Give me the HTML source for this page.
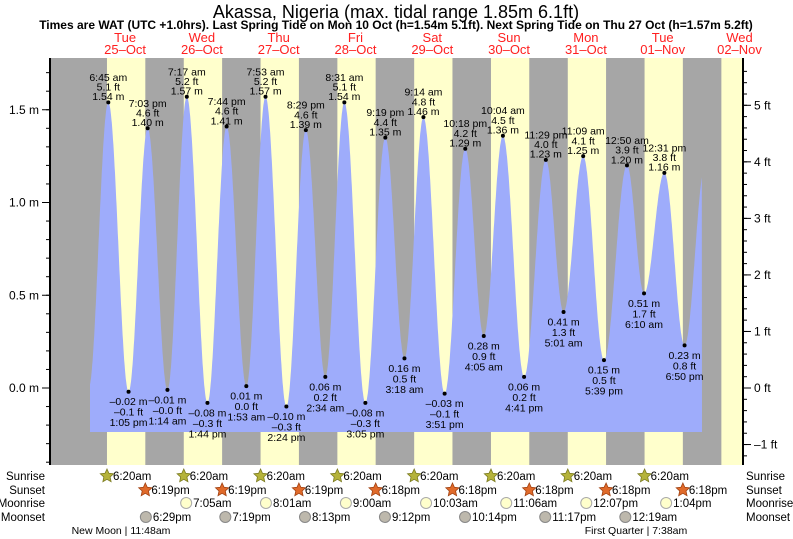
<!DOCTYPE html>
<html><head><meta charset="utf-8"><style>
body{margin:0;background:#fff;}
svg{display:block;font-family:"Liberation Sans",sans-serif;}
</style></head><body>
<svg id="chart" width="793" height="539" viewBox="0 0 793 539">
<text x="396" y="18" font-size="18" text-anchor="middle" fill="#000">Akassa, Nigeria (max. tidal range 1.85m 6.1ft)</text>
<text x="396" y="29" font-size="12" font-weight="bold" text-anchor="middle" fill="#000">Times are WAT (UTC +1.0hrs). Last Spring Tide on Mon 10 Oct (h=1.54m 5.1ft). Next Spring Tide on Thu 27 Oct (h=1.57m 5.2ft)</text>
<g id="bg"></g><g id="tide"></g><g id="axes"></g><g id="labels"></g><g id="bottom"></g>
</svg>
<script>
const dayNames=["Tue","Wed","Thu","Fri","Sat","Sun","Mon","Tue","Wed"];
const dayDates=["25-Oct","26-Oct","27-Oct","28-Oct","29-Oct","30-Oct","31-Oct","01-Nov","02-Nov"];
const tideDay=[0,0,0,1,1,1,1,2,2,2,2,3,3,3,3,4,4,4,4,5,5,5,5,6,6,6,7,7,7,7];
const tideTime=["6:45 am","1:05 pm","7:03 pm","1:14 am","7:17 am","1:44 pm","7:44 pm","1:53 am","7:53 am","2:24 pm","8:29 pm","2:34 am","8:31 am","3:05 pm","9:19 pm","3:18 am","9:14 am","3:51 pm","10:18 pm","4:05 am","10:04 am","4:41 pm","11:29 pm","5:01 am","11:09 am","5:39 pm","12:50 am","6:10 am","12:31 pm","6:50 pm"];
const tideM=[1.54,-0.02,1.40,-0.01,1.57,-0.08,1.41,0.01,1.57,-0.10,1.39,0.06,1.54,-0.08,1.35,0.16,1.46,-0.03,1.29,0.28,1.36,0.06,1.23,0.41,1.25,0.15,1.20,0.51,1.16,0.23];
const tideFt=["5.1","-0.1","4.6","-0.0","5.2","-0.3","4.6","0.0","5.2","-0.3","4.6","0.2","5.1","-0.3","4.4","0.5","4.8","-0.1","4.2","0.9","4.5","0.2","4.0","1.3","4.1","0.5","3.9","1.7","3.8","0.8"];
const sunriseTimes=["6:20am","6:20am","6:20am","6:20am","6:20am","6:20am","6:20am","6:20am"];
const sunsetTimes=["6:19pm","6:19pm","6:19pm","6:18pm","6:18pm","6:18pm","6:18pm","6:18pm"];
const moonriseDay=[1,2,3,4,5,6,7];
const moonriseTimes=["7:05am","8:01am","9:00am","10:03am","11:06am","12:07pm","1:04pm"];
const moonsetDay=[0,1,2,3,4,5,7];
const moonsetTimes=["6:29pm","7:19pm","8:13pm","9:12pm","10:14pm","11:17pm","12:19am"];
const yTicksM=[1.5,1.0,0.5,0.0];
const yTicksFt=[5,4,3,2,1,0,-1];

const NS="http://www.w3.org/2000/svg";
const X0=86.7,PXH=3.2,Y0=388,PXM=185.5;
const PL=50,PR=743,PT=58,PB=465;
const sx=h=>X0+h*PXH, sy=m=>Y0-m*PXM;
function parseT(s){const m=s.replace(/\s/g,'').match(/(\d+):(\d+)(am|pm)/);let h=+m[1]%12;if(m[3]=='pm')h+=12;return h+(+m[2])/60;}
function el(tag,attrs,parent,txt){const e=document.createElementNS(NS,tag);for(const k in attrs)e.setAttribute(k,attrs[k]);if(txt!==undefined)e.textContent=txt;parent.appendChild(e);return e;}
const bg=document.getElementById('bg'),tide=document.getElementById('tide'),axes=document.getElementById('axes'),labels=document.getElementById('labels'),bottom=document.getElementById('bottom');

let r=el('rect',{x:PL,y:PT,width:PR-PL,height:PB-PT,fill:'#a6a6a6'},bg);


for(let d=0;d<9;d++){
  const a=sx(d*24+parseT('6:20am')),b=Math.min(PR,sx(d*24+parseT(sunsetTimes[Math.min(d,7)])));
  const y=el('rect',{x:a,y:PT,width:b-a,height:PB-PT,fill:'#ffffcc'},bg);
  
  
  const cx=sx(d*24+12);
  const t1=el('text',{x:cx,y:42,'font-size':13,'text-anchor':'middle',fill:'#ff2020'},bg,dayNames[d]);
  
  
  const t2=el('text',{x:cx,y:54,'font-size':13,'text-anchor':'middle',fill:'#ff2020'},bg,dayDates[d].replace('-','\u2013'));
  
  
}
const pts=[{t:0.6,m:0.0}];
for(let i=0;i<tideM.length;i++)pts.push({t:tideDay[i]*24+parseT(tideTime[i]),m:tideM[i]});
pts.push({t:7*24+25.3,m:1.2});
const tStart=(90-X0)/PXH,tEnd=(702-X0)/PXH,yBot=432;
let d=`M${sx(tStart)},${yBot}`;
for(let t=tStart;t<=tEnd;t+=0.1){
  let k=0;while(k<pts.length-2&&pts[k+1].t<t)k++;
  const p=pts[k],q=pts[k+1];const f=Math.min(1,Math.max(0,(t-p.t)/(q.t-p.t)));
  const m=p.m+(q.m-p.m)*(1-Math.cos(Math.PI*f))/2;
  d+=` L${sx(t).toFixed(1)},${sy(m).toFixed(1)}`;
}
d+=` L${sx(tEnd)},${yBot} Z`;
const area=el('path',{d:d,fill:'#9eacfb'},tide);


for(let i=0;i<tideM.length;i++){
  const t=tideDay[i]*24+parseT(tideTime[i]),x=sx(t),y=sy(tideM[i]);
  const dot=el('circle',{cx:x,cy:y,r:2,fill:'#000'},labels);
  
  
  const mStr=(tideM[i]<0?'\u2013':'')+Math.abs(tideM[i]).toFixed(2)+' m';
  const fStr=tideFt[i].replace('-','\u2013')+' ft';
  const isHigh=tideM[i]>0.7;
  const lines=isHigh?[tideTime[i],fStr,mStr]:[mStr,fStr,tideTime[i]];
  const g=el('g',{'font-size':10.5,'text-anchor':'middle',fill:'#000'},labels);
  
  
  lines.forEach((s,j)=>{
    const yy=isHigh?y-25+j*9.7:y+10+j*10.5;
    el('text',{x:x,y:yy+3.5},g,s);
  });
}
const ax=el('g',{stroke:'#000','stroke-width':1},axes);


el('line',{x1:PL,y1:PT,x2:PL,y2:PB,'stroke-width':2},ax);
el('line',{x1:PR,y1:PT,x2:PR,y2:PB,'stroke-width':2},ax);
for(let v=-0.4;v<=1.75;v+=0.1){const y=sy(v);if(y<PT||y>PB)continue;el('line',{x1:PL-4,y1:y,x2:PL,y2:y},ax);}
yTicksM.forEach(v=>{const y=sy(v);el('line',{x1:PL-8,y1:y,x2:PL,y2:y},ax);
  const t=el('text',{x:PL-11,y:y+4,'font-size':12,'text-anchor':'end',fill:'#000',stroke:'none'},axes,v.toFixed(1)+' m');
  
  });
for(let f=-1.4;f<=5.8;f+=0.2){const y=sy(f*0.3048);if(y<PT||y>PB)continue;el('line',{x1:PR,y1:y,x2:PR+4,y2:y},ax);}
yTicksFt.forEach(f=>{const y=sy(f*0.3048);el('line',{x1:PR,y1:y,x2:PR+8,y2:y},ax);
  const t=el('text',{x:PR+11,y:y+4,'font-size':12,fill:'#000',stroke:'none'},axes,(f<0?'\u2013'+(-f):f)+' ft');
  
  });
const rowY=[476,490,503,517];
["Sunrise","Sunset","Moonrise","Moonset"].forEach((n,i)=>{
  const a=el('text',{x:45,y:rowY[i]+4,'font-size':11.5,'text-anchor':'end'},bottom,n);
  
  
  const b=el('text',{x:746,y:rowY[i]+4,'font-size':11.5},bottom,n);
  
  
});
function star(cx,cy,fill,stroke){let p='';for(let k=0;k<10;k++){const a=-Math.PI/2+k*Math.PI/5,rr=k%2?3.3:7;p+=(k?'L':'M')+(cx+rr*Math.cos(a)).toFixed(1)+','+(cy+rr*Math.sin(a)).toFixed(1);}return el('path',{d:p+'Z',fill:fill,stroke:stroke,'stroke-width':0.8},bottom);}
sunriseTimes.forEach((s,dd)=>{const x=sx(dd*24+parseT(s));const st=star(x,rowY[0],'#b5b33a','#7a7a20');
  
  
  const t=el('text',{x:x+6,y:rowY[0]+4,'font-size':11.5},bottom,s);
  
  });
sunsetTimes.forEach((s,dd)=>{const x=sx(dd*24+parseT(s));const st=star(x,rowY[1],'#e06a2a','#a04010');
  
  
  const t=el('text',{x:x+6,y:rowY[1]+4,'font-size':11.5},bottom,s);
  
  });
moonriseTimes.forEach((s,i)=>{const x=sx(moonriseDay[i]*24+parseT(s));const c=el('circle',{cx:x,cy:rowY[2],r:5.5,fill:'#ffffcc',stroke:'#aaa'},bottom);
  
  
  const t=el('text',{x:x+7,y:rowY[2]+4,'font-size':11.5},bottom,s);
  
  });
moonsetTimes.forEach((s,i)=>{const x=sx(moonsetDay[i]*24+parseT(s));const c=el('circle',{cx:x,cy:rowY[3],r:5.5,fill:'#bdb8ac',stroke:'#888'},bottom);
  
  
  const t=el('text',{x:x+7,y:rowY[3]+4,'font-size':11.5},bottom,s);
  
  });
const p1=el('text',{x:121,y:534,'font-size':10.5,'text-anchor':'middle'},bottom,'New Moon | 11:48am');


const p2=el('text',{x:636,y:534,'font-size':10.5,'text-anchor':'middle'},bottom,'First Quarter | 7:38am');


</script>
</body></html>
